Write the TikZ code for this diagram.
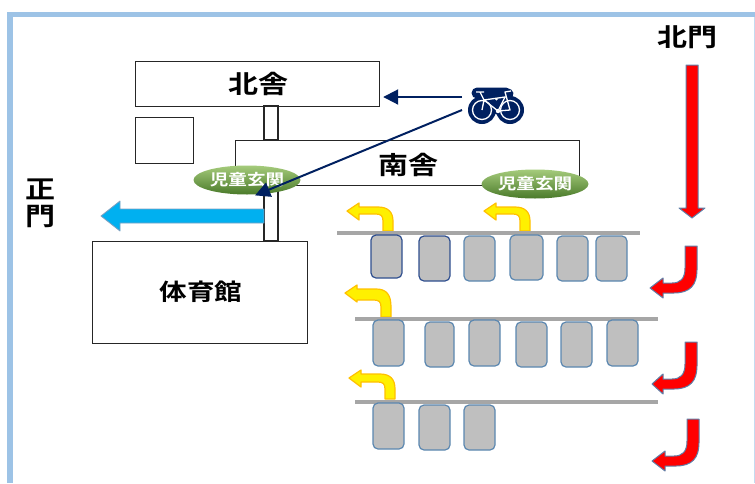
\documentclass[tikz,border=0pt]{standalone}
\usepackage{fontspec}
\setmainfont{Noto Sans CJK JP}
\newfontfamily\wideb{Noto Sans CJK JP Bold}[FakeStretch=1.2]
\usetikzlibrary{arrows.meta,shapes.geometric}
\definecolor{frameblue}{HTML}{9DC3E6}
\definecolor{navy}{HTML}{002060}
\definecolor{carfill}{HTML}{BFBFBF}
\definecolor{caredge}{HTML}{5B87B0}
\definecolor{cardark}{HTML}{2F4F8F}
\definecolor{lanegray}{HTML}{A6A6A6}
\definecolor{skyblue}{HTML}{00B0F0}
\definecolor{skyedge}{HTML}{7FA0C0}
\definecolor{rededge}{HTML}{5F7FA8}
\definecolor{yelfill}{HTML}{FFF000}
\definecolor{yeledge}{HTML}{FFC000}
\definecolor{grntop}{HTML}{A5CB7B}
\definecolor{grnmid}{HTML}{78AE45}
\definecolor{grnbot}{HTML}{4A7A2A}
\tikzset{
  building/.style={draw=black!85,line width=1.2pt,fill=white,anchor=north west,inner sep=0pt},
  bigtext/.style={font=\wideb\fontsize{25}{25}\selectfont,text=black,inner sep=0pt},
  hallway/.style={draw=black!85,line width=1.2pt,fill=white},
  entrance/.style={ellipse,inner sep=0pt,minimum width=107pt,minimum height=29pt,top color=grntop,middle color=grnmid,bottom color=grnbot,font=\wideb\fontsize{15.5}{15.5}\selectfont,text=white},
  car/.style={draw=caredge,line width=1.2pt,fill=carfill,rounded corners=5pt},
  cardk/.style={car,draw=cardark},
  lane/.style={draw=lanegray,line width=3.5pt},
  redarrow/.style={fill=red,draw=rededge,line width=1pt,line join=round},
  yelarrow/.style={fill=yelfill,draw=yeledge,line width=1.2pt,line join=round},
  bluearrow/.style={fill=skyblue,draw=skyedge,line width=.8pt,line join=round},
  navyarrow/.style={draw=navy,line width=2pt,shorten >=-1pt,-{Triangle[length=15pt,width=15pt]}}
}
\newcommand{\redbend}[3]{% shaft left x, top y, tip x
  \begin{scope}[shift={(#1-685,#2-246)}]
  \path[redarrow] (685,246) -- (685,268) .. controls (685,279) and (680,283) .. (672,283) -- (663,283) -- (663,278) -- (#3-#1+685,288) -- (663,298) -- (663,293) -- (674,293) .. controls (690,293) and (697,285) .. (697,270) -- (697,246) -- cycle;
  \end{scope}}
\newcommand{\yelbend}[3]{% shaft left x, bottom y, extra height of the head and top edge
  \begin{scope}[shift={(#1-383,#2-231)}]
  \path[yelarrow] (383,231) -- (383,221) .. controls (383,216) and (381,214) .. (376,214) -- (359,214) -- (359,220-#3) -- (347,211-#3) -- (359,203-#3) -- (359,207-#3) -- (378,207-#3) .. controls (388,207-#3) and (393,212-#3) .. (393,221) -- (393,231) -- cycle;
  \end{scope}}
\begin{document}
\begin{tikzpicture}[x=1pt,y=-1pt]
\useasboundingbox (0,0) rectangle (755,483);
% frame
\fill[frameblue] (7,12) rectangle (755,17);
\fill[frameblue] (7,12) rectangle (13,483);
\draw[frameblue!60,line width=1pt] (754,17) -- (754,483);
% buildings
\node[building,minimum width=244pt,minimum height=45pt] (north) at (135,61) {};
\node[building,minimum width=58pt,minimum height=46pt] (shed) at (135,117) {};
\node[building,minimum width=344pt,minimum height=45pt] (south) at (235,140) {};
\node[building,minimum width=215pt,minimum height=102pt] (gym) at (92,241) {};
\path[hallway] (264,106) rectangle (278,140);
\path[hallway] (264,185) rectangle (278,241);
\node[bigtext] (northlbl) at (258,84) {北舎};
\node[bigtext] (southlbl) at (408,165) {南舎};
\node[bigtext,font=\wideb\fontsize{23}{23}\selectfont] (gymlbl) at (201,292) {体育館};
\node[bigtext] (kitamon) at (687,37) {北門};
\node[bigtext] (seimon1) at (40,189) {正};
\node[bigtext] (seimon2) at (40,216) {門};
% blue arrow
\path[bluearrow] (264,209) -- (120,209) -- (120,201) -- (101,216) -- (120,231) -- (120,223) -- (264,223) -- cycle;
% entrances
\node[entrance] (ent1) at (247,180) {児童玄関};
\node[entrance] (ent2) at (535,184) {児童玄関};
% yellow
\yelbend{383}{231}{0}
\yelbend{520}{231}{0}
\yelbend{381}{317}{4}
\yelbend{385}{399}{1}
% lanes
\draw[lane] (337,233) -- (640,233);
\draw[lane] (355,319) -- (658,319);
\draw[lane] (355,402) -- (658,402);
% cars
\path[cardk] (371,235) rectangle (402,278);
\path[cardk] (419,236) rectangle (450,281);
\path[car] (464,236) rectangle (495,281);
\path[car] (510,235) rectangle (543,280);
\path[car] (557,236) rectangle (588,281);
\path[car] (596,236) rectangle (627,281);
\path[car] (373,320) rectangle (404,366);
\path[car] (425,322) rectangle (454,367);
\path[car] (469,320) rectangle (500,366);
\path[car] (516,322) rectangle (547,367);
\path[car] (561,322) rectangle (592,367);
\path[car] (607,320) rectangle (638,366);
\path[car] (373,403) rectangle (404,449);
\path[car] (419,405) rectangle (450,450);
\path[car] (464,405) rectangle (495,450);
% red
\path[redarrow] (686,65) -- (698,65) -- (698,208) -- (705,208) -- (692,218) -- (679,208) -- (686,208) -- cycle;
\redbend{685}{246}{650}
\redbend{685}{342}{652}
\redbend{687}{419}{652}
% bike
\node[minimum width=54pt,minimum height=37pt,inner sep=0pt] (bike) at (496,105.5) {};
\coordinate (bikeA) at (462,97);
\coordinate (bikeB) at (462,110);
\coordinate (entry) at (256,195);
\coordinate (northport) at ([xshift=4pt]north.east |- bikeA);
\fill[navy] (482,110) circle[radius=14] (510,110) circle[radius=14];
\draw[navy,line width=11pt,line join=round,line cap=round] (477,93) -- (506,93) (480,94) -- (498,109) -- (508,94);
\draw[white,line width=1.3pt] (482,110) circle[radius=9.5] (510,110) circle[radius=9.5];
\draw[white,line width=1.3pt,line join=round] (476,92) -- (484,92) (480,92) -- (484,100) -- (498,111) -- (510,110) -- (505,92) -- (511,91) (484,100) -- (505,97) -- (498,111) (482,110) -- (484,100);
\fill[white] (498,111) circle[radius=2.2];
% navy arrows
\draw[navyarrow] (bikeA) -- (northport);
\draw[navyarrow] (bikeB) -- (entry);
\end{tikzpicture}
\end{document}
